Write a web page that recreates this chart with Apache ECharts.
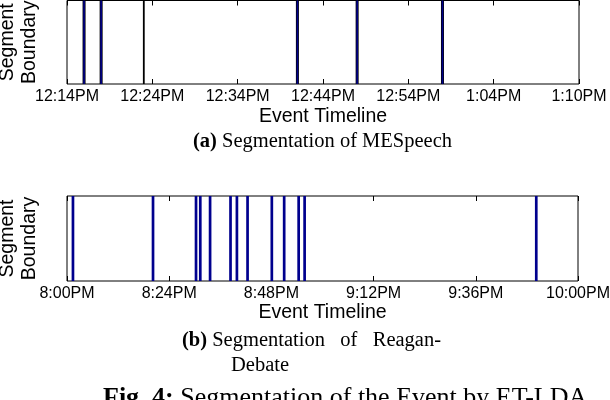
<!DOCTYPE html>
<html>
<head>
<meta charset="utf-8">
<script src="https://cdn.jsdelivr.net/npm/echarts@6/dist/echarts.min.js"></script>
<style>
html,body{margin:0;padding:0;background:#fff;}
#chart{width:610px;height:400px;}
</style>
</head>
<body>
<div id="chart"></div>
<script>
// (a) MESpeech: minutes after 12:14PM
const topTickLabels = ['12:14PM', '12:24PM', '12:34PM', '12:44PM', '12:54PM', '1:04PM', '1:10PM'];
const topBoundariesBlue = [2, 4, 27, 34, 44];
const topBoundariesBlack = [9];
// (b) Reagan-Debate: minutes after 8:00PM
const bottomTickLabels = ['8:00PM', '8:24PM', '8:48PM', '9:12PM', '9:36PM', '10:00PM'];
const bottomBoundaries = [1.4, 20.2, 30.3, 31.3, 33.6, 38.4, 39.9, 42.4, 48.1, 51.0, 54.4, 55.8, 110.2];

const SANS = 'Liberation Sans';
const SERIF = 'Liberation Serif';

function vline(strokes) {
  return function (params, api) {
    const x = api.value(0);
    const p0 = api.coord([x, 0]);
    const p1 = api.coord([x, 1]);
    return {
      type: 'group',
      children: strokes.map(s => ({
        type: 'line',
        shape: { x1: p0[0], y1: p0[1], x2: p1[0], y2: p1[1] },
        style: { stroke: s.color, lineWidth: s.width }
      }))
    };
  };
}

function xAxes(gridIndex, max, interval, labels, nameGap) {
  const tick = { show: true, inside: true, length: 5, lineStyle: { color: '#000', width: 1 } };
  return [
    {
      gridIndex, type: 'value', min: 0, max, interval, position: 'bottom',
      axisLine: { show: false }, axisTick: tick, splitLine: { show: false },
      axisLabel: {
        show: true, color: '#000', fontFamily: SANS, fontSize: 16, margin: 5,
        showMinLabel: true, showMaxLabel: true, hideOverlap: false,
        formatter: v => labels[Math.round(v / interval)]
      },
      name: 'Event Timeline', nameLocation: 'middle', nameGap,
      nameTextStyle: { color: '#000', fontFamily: SANS, fontSize: 19.5 }
    },
    {
      gridIndex, type: 'value', min: 0, max, interval, position: 'top',
      axisLine: { show: false }, axisTick: tick, splitLine: { show: false },
      axisLabel: { show: false }
    }
  ];
}

function yAxis(gridIndex) {
  return {
    gridIndex, type: 'value', min: 0, max: 1,
    axisLine: { show: false }, axisTick: { show: false }, axisLabel: { show: false },
    splitLine: { show: false },
    name: 'Segment\nBoundary', nameLocation: 'middle', nameRotate: 90, nameGap: 26,
    nameTextStyle: { color: '#000', fontFamily: SANS, fontSize: 19.5, lineHeight: 22 }
  };
}

const gridBase = { show: true, borderColor: '#000', borderWidth: 1, backgroundColor: '#fff', containLabel: false, outerBoundsMode: 'none' };

const chart = echarts.init(document.getElementById('chart'), null, { renderer: 'canvas' });
chart.setOption({
  backgroundColor: '#fff',
  animation: false,
  grid: [
    Object.assign({ left: 67, top: 0.5, width: 512, height: 83.5 }, gridBase),
    Object.assign({ left: 67, top: 196, width: 511, height: 85 }, gridBase)
  ],
  xAxis: [].concat(xAxes(0, 60, 10, topTickLabels, 23), xAxes(1, 120, 24, bottomTickLabels, 21)),
  yAxis: [yAxis(0), yAxis(1)],
  series: [
    {
      type: 'custom', xAxisIndex: 0, yAxisIndex: 0,
      data: topBoundariesBlue.map(v => [v]), encode: { x: 0 },
      renderItem: vline([{ color: '#000', width: 3 }, { color: '#00008a', width: 1.6 }])
    },
    {
      type: 'custom', xAxisIndex: 0, yAxisIndex: 0,
      data: topBoundariesBlack.map(v => [v]), encode: { x: 0 },
      renderItem: vline([{ color: '#000', width: 1.8 }])
    },
    {
      type: 'custom', xAxisIndex: 2, yAxisIndex: 1,
      data: bottomBoundaries.map(v => [v]), encode: { x: 0 },
      renderItem: vline([{ color: '#00008e', width: 2.7 }])
    }
  ],
  graphic: [
    {
      type: 'text', left: 193, top: 131,
      style: {
        text: '{b|(a)} Segmentation of MESpeech',
        fill: '#000', font: '20.5px "Liberation Serif"',
        rich: { b: { fontFamily: SERIF, fontSize: 20.5, fontWeight: 'bold', fill: '#000' } }
      }
    },
    {
      type: 'text', left: 182, top: 330,
      style: {
        text: '{b|(b)} Segmentation   of   Reagan-',
        fill: '#000', font: '20.5px "Liberation Serif"',
        rich: { b: { fontFamily: SERIF, fontSize: 20.5, fontWeight: 'bold', fill: '#000' } }
      }
    },
    {
      type: 'text', left: 231, top: 355,
      style: { text: 'Debate', fill: '#000', font: '20.5px "Liberation Serif"' }
    },
    {
      type: 'text', left: 103, top: 385,
      style: {
        text: '{b|Fig. 4:} Segmentation of the Event by ET-LDA',
        fill: '#000', font: '26px "Liberation Serif"',
        rich: { b: { fontFamily: SERIF, fontSize: 26, fontWeight: 'bold', fill: '#000' } }
      }
    }
  ]
});
</script>
</body>
</html>
